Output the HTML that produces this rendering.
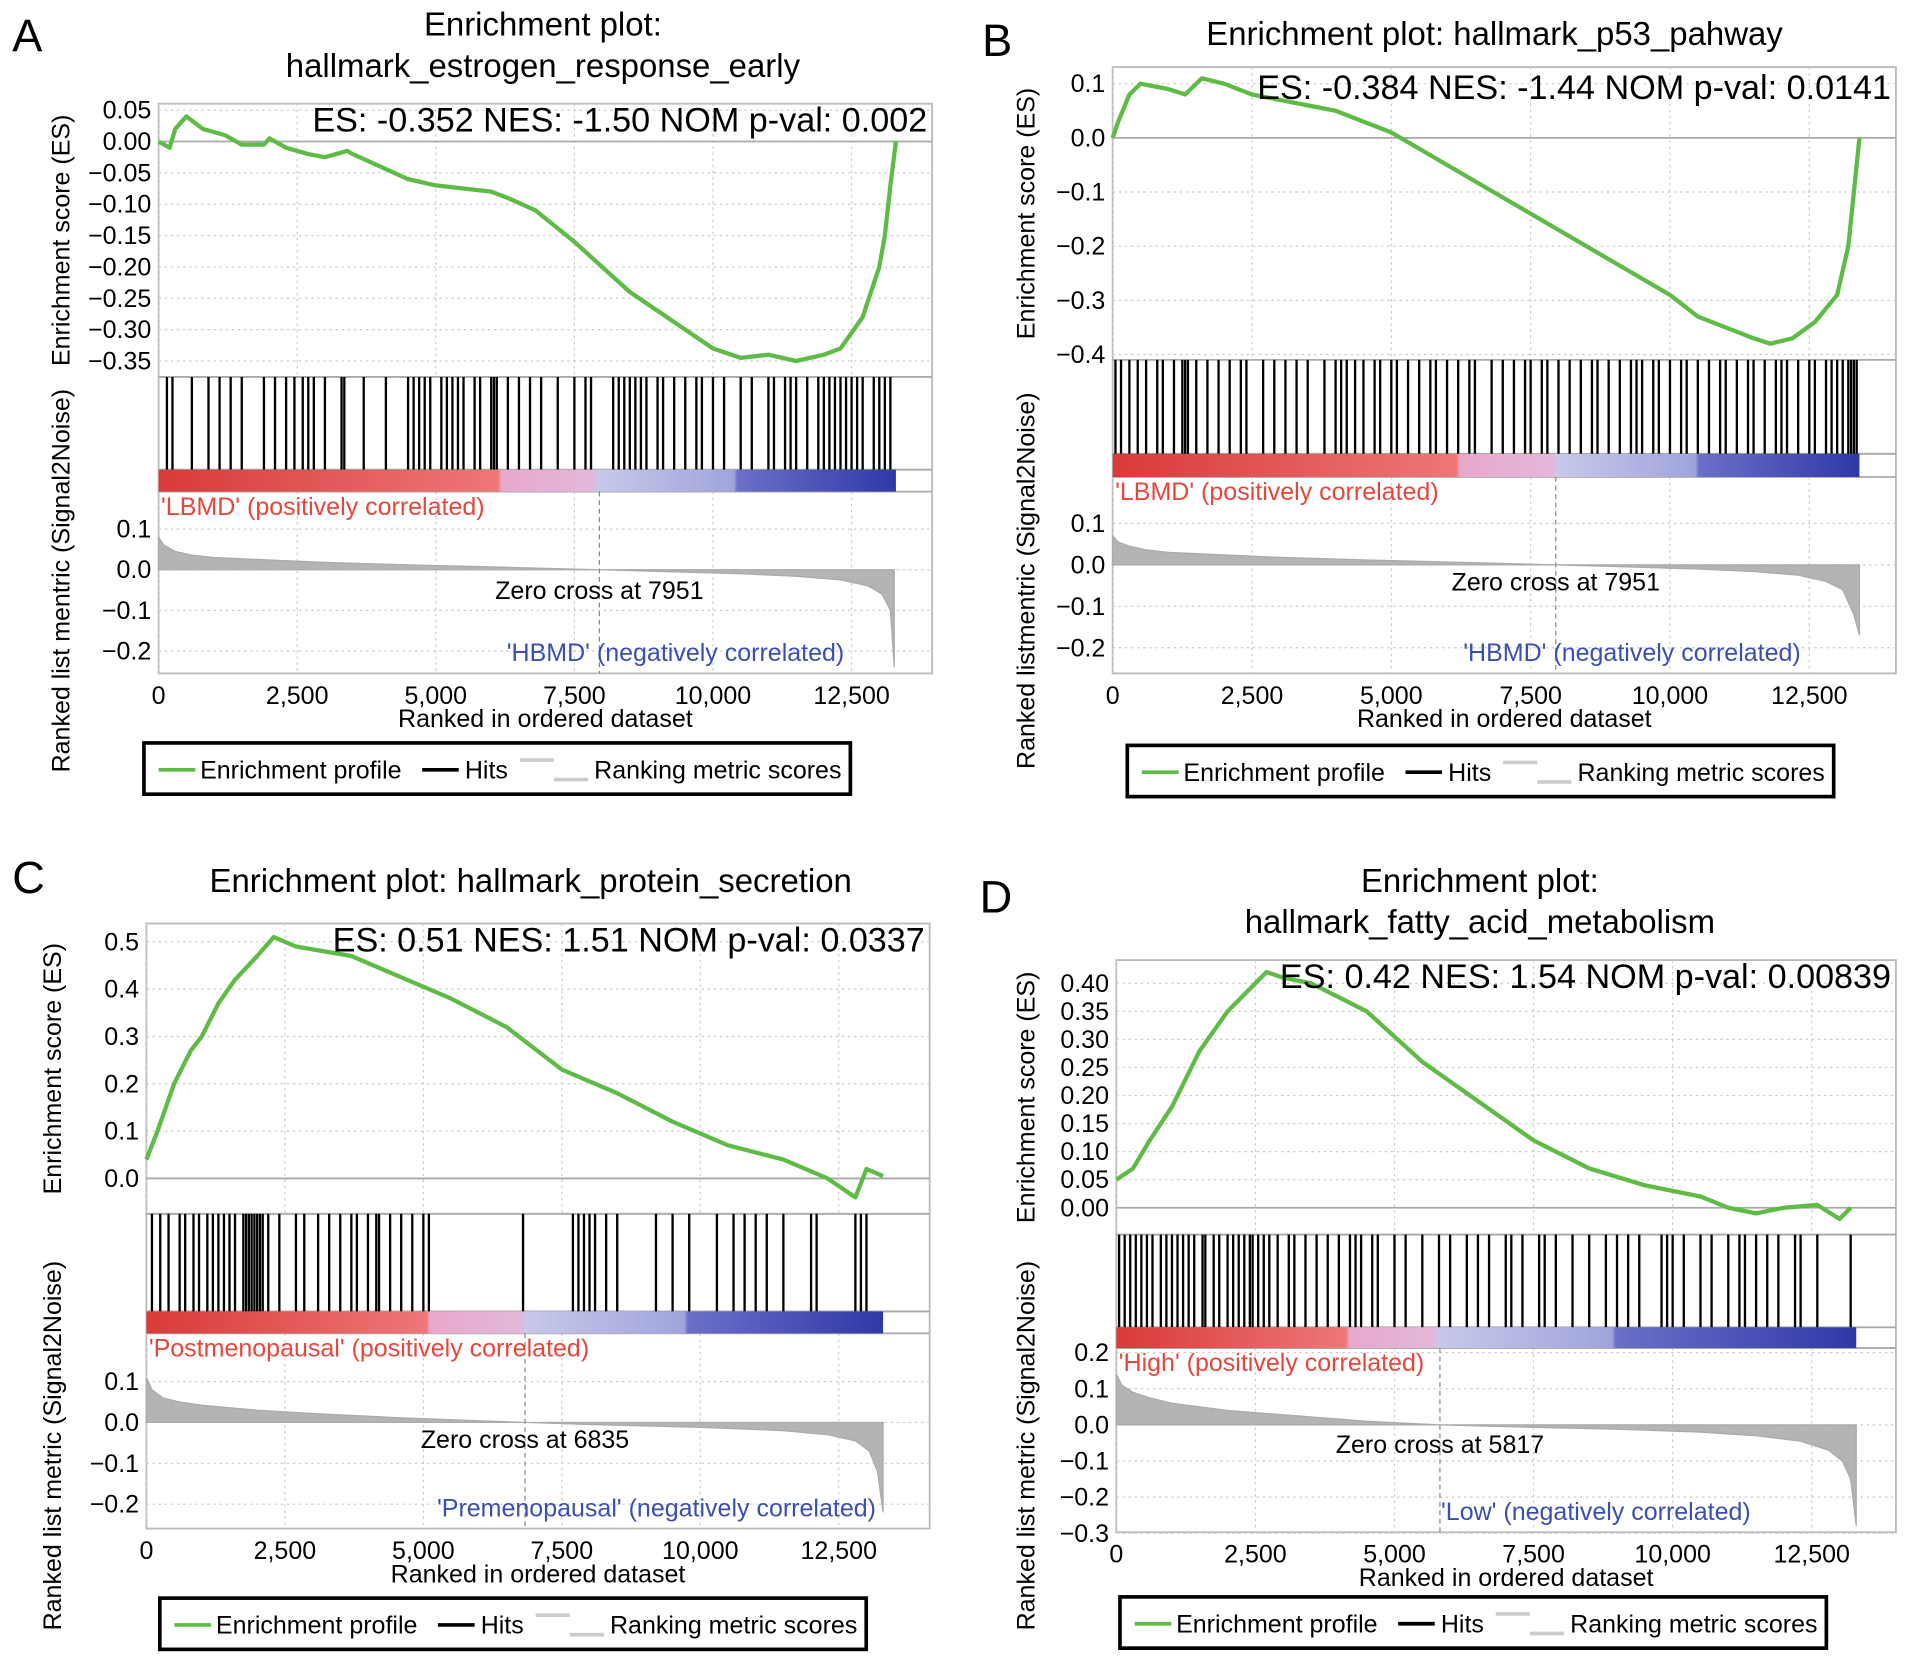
<!DOCTYPE html>
<html><head><meta charset="utf-8"><style>
html,body{margin:0;padding:0;background:#fff;}
svg{display:block;font-family:"Liberation Sans",Arial,sans-serif;}
</style></head><body>
<svg id="fig" width="1913" height="1664" viewBox="0 0 1568 1364" preserveAspectRatio="none" xmlns="http://www.w3.org/2000/svg">
<defs>
<linearGradient id="cbA" x1="0" x2="1"><stop offset="0" stop-color="#d93a3a"/><stop offset="0.46" stop-color="#ee7777"/><stop offset="0.465" stop-color="#e8a8cc"/><stop offset="0.59" stop-color="#e3b8dc"/><stop offset="0.595" stop-color="#c8c8ea"/><stop offset="0.78" stop-color="#a0a4dc"/><stop offset="0.785" stop-color="#6a70c8"/><stop offset="1" stop-color="#3038a8"/></linearGradient>
<linearGradient id="cbB" x1="0" x2="1"><stop offset="0" stop-color="#d93a3a"/><stop offset="0.46" stop-color="#ee7777"/><stop offset="0.465" stop-color="#e8a8cc"/><stop offset="0.59" stop-color="#e3b8dc"/><stop offset="0.595" stop-color="#c8c8ea"/><stop offset="0.78" stop-color="#a0a4dc"/><stop offset="0.785" stop-color="#6a70c8"/><stop offset="1" stop-color="#3038a8"/></linearGradient>
<linearGradient id="cbC" x1="0" x2="1"><stop offset="0" stop-color="#d93a3a"/><stop offset="0.38" stop-color="#ee7777"/><stop offset="0.385" stop-color="#e8a8cc"/><stop offset="0.51" stop-color="#e3b8dc"/><stop offset="0.515" stop-color="#c8c8ea"/><stop offset="0.73" stop-color="#a0a4dc"/><stop offset="0.735" stop-color="#6a70c8"/><stop offset="1" stop-color="#3038a8"/></linearGradient>
<linearGradient id="cbD" x1="0" x2="1"><stop offset="0" stop-color="#d93a3a"/><stop offset="0.31" stop-color="#ee7777"/><stop offset="0.315" stop-color="#e8a8cc"/><stop offset="0.43" stop-color="#e3b8dc"/><stop offset="0.435" stop-color="#c8c8ea"/><stop offset="0.67" stop-color="#a0a4dc"/><stop offset="0.675" stop-color="#6a70c8"/><stop offset="1" stop-color="#3038a8"/></linearGradient>
</defs>
</svg>
<script>
// ---------- data ----------
const xTickVals=[0,2500,5000,7500,10000,12500];
const xTickLabels=["0","2,500","5,000","7,500","10,000","12,500"];

const esRankA=[0,200,300,500,800,1200,1500,1900,2000,2300,2700,3000,3400,3500,4000,4500,5000,5500,6000,6300,6800,7500,8000,8500,9000,9500,10000,10500,11000,11500,12000,12300,12700,13000,13100,13200,13300];
const esValA=[0,-0.01,0.02,0.04,0.02,0.01,-0.005,-0.005,0.005,-0.01,-0.02,-0.025,-0.015,-0.02,-0.04,-0.06,-0.07,-0.075,-0.08,-0.09,-0.11,-0.16,-0.2,-0.24,-0.27,-0.3,-0.33,-0.345,-0.34,-0.35,-0.34,-0.33,-0.28,-0.2,-0.15,-0.07,0.0];
const hitsA=[150,250,600,900,1100,1300,1500,1900,2100,2300,2450,2600,2700,2800,3000,3300,3350,3700,4100,4500,4600,4700,4800,4900,5100,5200,5300,5400,5500,5700,5800,6000,6050,6100,6300,6500,6700,6900,7200,7500,7700,7800,8200,8300,8400,8500,8600,8700,8800,9000,9100,9300,9500,9700,9800,10000,10200,10500,10700,11000,11100,11300,11400,11500,11700,11900,12000,12100,12200,12300,12400,12500,12600,12700,12900,13000,13100,13200];
const mRankA=[0,100,300,600,1000,2000,3000,4500,6000,7951,9000,10500,11500,12300,12800,13050,13200,13270];
const mValA=[0.08,0.06,0.045,0.036,0.03,0.024,0.018,0.012,0.007,0,-0.004,-0.01,-0.016,-0.025,-0.04,-0.06,-0.1,-0.24];

const esRankB=[0,100,300,500,1000,1300,1600,2000,2500,3000,3500,4000,4500,5000,5500,6000,7000,8000,9000,10000,10500,11000,11500,11800,12200,12600,13000,13200,13300,13400];
const esValB=[0,0.03,0.08,0.1,0.09,0.08,0.11,0.1,0.08,0.07,0.06,0.05,0.03,0.01,-0.02,-0.05,-0.11,-0.17,-0.23,-0.29,-0.33,-0.35,-0.37,-0.38,-0.37,-0.34,-0.29,-0.2,-0.1,0.0];
const hitsB=[50,150,300,450,600,800,900,1100,1250,1300,1350,1500,1700,1900,2100,2300,2400,2700,2900,3100,3300,3500,3800,4000,4100,4200,4350,4500,4700,4800,5000,5100,5300,5500,5700,5800,6000,6200,6400,6500,6800,7000,7200,7400,7500,7700,7800,8000,8200,8400,8600,8700,8900,9100,9300,9400,9500,9700,9800,10000,10200,10300,10500,10700,10900,11000,11200,11400,11500,11700,11900,12000,12100,12300,12500,12600,12800,12900,13000,13100,13200,13250,13300,13350];
const mRankB=[0,100,300,600,1000,2000,3000,4500,6000,7951,9000,10500,11500,12300,12800,13100,13300,13400];
const mValB=[0.07,0.055,0.045,0.036,0.03,0.024,0.018,0.012,0.007,0,-0.004,-0.01,-0.016,-0.025,-0.04,-0.06,-0.12,-0.17];

const esRankC=[0,200,500,800,1000,1300,1600,2000,2300,2700,3200,3700,3900,4500,5500,6500,7500,8500,9500,10500,11500,12300,12800,13000,13300];
const esValC=[0.04,0.1,0.2,0.27,0.3,0.37,0.42,0.47,0.51,0.49,0.48,0.47,0.46,0.43,0.38,0.32,0.23,0.18,0.12,0.07,0.04,0.0,-0.04,0.02,0.005];
const hitsC=[100,250,400,600,700,850,950,1100,1200,1300,1400,1500,1600,1750,1800,1850,1900,1950,2000,2050,2100,2200,2400,2700,2850,3100,3300,3500,3700,3800,4000,4150,4200,4400,4600,4800,5000,5100,6800,7700,7800,7900,8000,8100,8300,8500,9200,9500,9800,10300,10600,10800,11000,11200,11500,12000,12100,12800,12900,13000];
const mRankC=[0,100,300,600,1000,2000,3000,4500,6835,8000,10000,11500,12300,12800,13050,13200,13300];
const mValC=[0.11,0.08,0.06,0.05,0.042,0.03,0.022,0.012,0,-0.005,-0.012,-0.02,-0.03,-0.045,-0.07,-0.12,-0.22];

const esRankD=[0,300,600,1000,1500,2000,2500,2700,3000,3500,4500,5500,6500,7500,8500,9500,10500,11000,11500,12000,12600,13000,13200];
const esValD=[0.05,0.07,0.12,0.18,0.28,0.35,0.4,0.42,0.41,0.4,0.35,0.26,0.19,0.12,0.07,0.04,0.02,0.0,-0.01,0.0,0.005,-0.02,0.0];
const hitsD=[50,150,250,350,450,550,650,800,900,1000,1100,1200,1300,1400,1550,1600,1750,1850,2000,2100,2200,2300,2400,2450,2550,2650,2750,2900,3100,3200,3400,3600,3800,4000,4200,4300,4400,4600,4700,5000,5200,5500,5800,6000,6300,6500,6700,7000,7100,7300,7600,7700,7900,8200,8500,8800,9000,9200,9400,9800,9900,10000,10200,10500,10700,11000,11200,11300,11500,11700,11900,12200,12300,12600,13200];
const mRankD=[0,100,300,600,1000,2000,3000,4500,5817,7000,9000,10500,11500,12300,12800,13050,13200,13300];
const mValD=[0.14,0.11,0.09,0.075,0.06,0.04,0.028,0.01,0,-0.005,-0.012,-0.02,-0.03,-0.045,-0.07,-0.1,-0.15,-0.28];

// ---------- drawing ----------
const NS="http://www.w3.org/2000/svg";
const svg=document.getElementById('fig');
const FS=20.5;
function mk(parent,tag,attrs,text){const e=document.createElementNS(NS,tag);for(const k in attrs)e.setAttribute(k,attrs[k]);if(text!==undefined)e.textContent=text;parent.appendChild(e);return e;}

function panel(c){
  const g=mk(svg,'g',{});
  
  
  const X=r=>c.x0+r*c.xs;
  const YE=v=>c.ez-v*c.es;
  const YM=v=>c.mz-v*c.ms;
  const L=mk(g,'text',{x:c.lx,y:c.ly,'font-size':37},c.id);
  
  c.title.forEach((t,i)=>{const e=mk(g,'text',{x:c.tx,y:c.ty+i*34,'font-size':27,'text-anchor':'middle'},t);
    });
  const fr=mk(g,'rect',{x:c.x0,y:c.top,width:c.x1-c.x0,height:c.bot-c.top,fill:'none',stroke:'#bbb','stroke-width':1.5});
  
  xTickVals.forEach((v,i)=>{
    mk(g,'line',{x1:X(v),x2:X(v),y1:c.top,y2:c.hitTop,stroke:'#ccc','stroke-dasharray':'2,3'});
    mk(g,'line',{x1:X(v),x2:X(v),y1:c.cbBot,y2:c.bot,stroke:'#ccc','stroke-dasharray':'2,3'});
    const t=mk(g,'text',{x:X(v),y:c.bot+25,'font-size':FS,'text-anchor':'middle'},xTickLabels[i]);
    
  });
  c.esTicks.forEach((v,i)=>{
    mk(g,'line',{x1:c.x0,x2:c.x1,y1:YE(v),y2:YE(v),stroke:'#ccc','stroke-dasharray':'2,3'});
    const t=mk(g,'text',{x:c.x0-6,y:YE(v)+7,'font-size':FS,'text-anchor':'end'},c.esLab[i]);
    
  });
  c.mTicks.forEach((v,i)=>{
    mk(g,'line',{x1:c.x0,x2:c.x1,y1:YM(v),y2:YM(v),stroke:'#ccc','stroke-dasharray':'2,3'});
    const t=mk(g,'text',{x:c.x0-6,y:YM(v)+7,'font-size':FS,'text-anchor':'end'},c.mLab[i]);
    
  });
  mk(g,'line',{x1:c.x0,x2:c.x1,y1:YE(0),y2:YE(0),stroke:'#aaa','stroke-width':1.5});
  mk(g,'line',{x1:c.x0,x2:c.x1,y1:c.hitTop,y2:c.hitTop,stroke:'#aaa','stroke-width':1.5});
  mk(g,'line',{x1:c.x0,x2:c.x1,y1:c.cbTop,y2:c.cbTop,stroke:'#aaa','stroke-width':1.5});
  mk(g,'line',{x1:c.x0,x2:c.x1,y1:c.cbBot,y2:c.cbBot,stroke:'#aaa','stroke-width':1.5});
  c.hits.forEach(h=>{const l=mk(g,'line',{x1:X(h),x2:X(h),y1:c.hitTop,y2:c.cbTop,stroke:'#000','stroke-width':1.9});
    });
  const cb=mk(g,'rect',{x:c.x0,y:c.cbTop,width:X(c.N)-c.x0,height:c.cbBot-c.cbTop,fill:'url(#'+c.grad+')'});
  
  let d='M'+X(c.mR[0])+','+YM(0);
  c.mR.forEach((r,i)=>{d+=' L'+X(r)+','+YM(c.mV[i]);});
  d+=' L'+X(c.mR[c.mR.length-1])+','+YM(0)+' Z';
  const ma=mk(g,'path',{d:d,fill:'#b4b4b4',stroke:'#aaa','stroke-width':1});
  
  mk(g,'line',{x1:X(c.zc),x2:X(c.zc),y1:c.cbBot,y2:c.bot,stroke:'#888','stroke-dasharray':'4,3'});
  const zt=mk(g,'text',{x:X(c.zc),y:c.zty,'font-size':FS,'text-anchor':'middle'},'Zero cross at '+c.zc);
  
  const pos=mk(g,'text',{x:c.x0+2,y:c.cbBot+19,'font-size':FS,fill:'#e8463c'},c.posLab);
  
  const neg=mk(g,'text',{x:c.negX,y:c.bot-10,'font-size':FS,fill:'#3b4fb0','text-anchor':'end'},c.negLab);
  
  const pts=c.esR.map((r,i)=>X(r)+','+YE(c.esV[i])).join(' ');
  const cur=mk(g,'polyline',{points:pts,fill:'none',stroke:'#5dbb46','stroke-width':3.5,'stroke-linejoin':'round'});
  
  const st=mk(g,'text',{x:c.x1-4,y:c.sty,'font-size':28,'text-anchor':'end'},c.stat);
  
  const xl=mk(g,'text',{x:(c.x0+c.x1)/2,y:c.bot+44,'font-size':FS,'text-anchor':'middle'},'Ranked in ordered dataset');
  
  const y1=mk(g,'text',{x:0,y:0,'font-size':FS,'text-anchor':'middle',transform:'translate('+c.ylx+','+((c.top+c.hitTop)/2)+') rotate(-90)'},'Enrichment score (ES)');
  
  const y2=mk(g,'text',{x:0,y:0,'font-size':FS,'text-anchor':'middle',transform:'translate('+c.ylx+','+c.y2c+') rotate(-90)'},c.y2t);
  
  const lg=mk(g,'g',{});
  
  const lx=c.lgx,ly=c.lgy;
  mk(lg,'rect',{x:lx,y:ly,width:579,height:42,fill:'#fff',stroke:'#000','stroke-width':3});
  mk(lg,'line',{x1:lx+12,x2:lx+42,y1:ly+22,y2:ly+22,stroke:'#5dbb46','stroke-width':3});
  const t1=mk(lg,'text',{x:lx+46,y:ly+29,'font-size':FS},'Enrichment profile');
  
  mk(lg,'line',{x1:lx+228,x2:lx+258,y1:ly+22,y2:ly+22,stroke:'#000','stroke-width':3});
  const t2=mk(lg,'text',{x:lx+263,y:ly+29,'font-size':FS},'Hits');
  
  mk(lg,'line',{x1:lx+308,x2:lx+336,y1:ly+14,y2:ly+14,stroke:'#ccc','stroke-width':3});
  mk(lg,'line',{x1:lx+336,x2:lx+364,y1:ly+30,y2:ly+30,stroke:'#ccc','stroke-width':3});
  const t3=mk(lg,'text',{x:lx+369,y:ly+29,'font-size':FS},'Ranking metric scores');
  
}

panel({id:'A',lx:10,ly:42,title:['Enrichment plot:','hallmark_estrogen_response_early'],tx:445,ty:29,
  x0:130,x1:764,xs:0.04544,top:85,hitTop:309,cbTop:385,cbBot:403,bot:552,ez:116,es:514,mz:467,ms:333,N:13300,
  esTicks:[0.05,0,-0.05,-0.1,-0.15,-0.2,-0.25,-0.3,-0.35],esLab:['0.05','0.00','−0.05','−0.10','−0.15','−0.20','−0.25','−0.30','−0.35'],
  mTicks:[0.1,0,-0.1,-0.2],mLab:['0.1','0.0','−0.1','−0.2'],hits:hitsA,grad:'cbA',mR:mRankA,mV:mValA,esR:esRankA,esV:esValA,
  zc:7951,zty:491,posLab:"'LBMD' (positively correlated)",negLab:"'HBMD' (negatively correlated)",negX:692,
  stat:'ES: -0.352 NES: -1.50 NOM p-val: 0.002',sty:108,ylx:57,y2c:476,y2t:'Ranked list mentric (Signal2Noise)',lgx:118,lgy:609});
panel({id:'B',lx:805,ly:46,title:['Enrichment plot: hallmark_p53_pahway'],tx:1225,ty:37,
  x0:912,x1:1554,xs:0.04568,top:55,hitTop:295,cbTop:372,cbBot:391,bot:552,ez:113,es:444,mz:463,ms:340,N:13400,
  esTicks:[0.1,0,-0.1,-0.2,-0.3,-0.4],esLab:['0.1','0.0','−0.1','−0.2','−0.3','−0.4'],
  mTicks:[0.1,0,-0.1,-0.2],mLab:['0.1','0.0','−0.1','−0.2'],hits:hitsB,grad:'cbB',mR:mRankB,mV:mValB,esR:esRankB,esV:esValB,
  zc:7951,zty:484,posLab:"'LBMD' (positively correlated)",negLab:"'HBMD' (negatively correlated)",negX:1476,
  stat:'ES: -0.384 NES: -1.44 NOM p-val: 0.0141',sty:81,ylx:848,y2c:476,y2t:'Ranked listmentric (Signal2Noise)',lgx:924,lgy:611});
panel({id:'C',lx:10,ly:732,title:['Enrichment plot: hallmark_protein_secretion'],tx:435,ty:731,
  x0:120,x1:762,xs:0.0454,top:757,hitTop:995,cbTop:1075,cbBot:1093,bot:1253,ez:966,es:388,mz:1166,ms:335,N:13300,
  esTicks:[0.5,0.4,0.3,0.2,0.1,0],esLab:['0.5','0.4','0.3','0.2','0.1','0.0'],
  mTicks:[0.1,0,-0.1,-0.2],mLab:['0.1','0.0','−0.1','−0.2'],hits:hitsC,grad:'cbC',mR:mRankC,mV:mValC,esR:esRankC,esV:esValC,
  zc:6835,zty:1187,posLab:"'Postmenopausal' (positively correlated)",negLab:"'Premenopausal' (negatively correlated)",negX:718,
  stat:'ES: 0.51 NES: 1.51 NOM p-val: 0.0337',sty:780,ylx:50,y2c:1185,y2t:'Ranked list metric (Signal2Noise)',lgx:131,lgy:1310});
panel({id:'D',lx:803,ly:748,title:['Enrichment plot:','hallmark_fatty_acid_metabolism'],tx:1213,ty:731,
  x0:915,x1:1554,xs:0.0456,top:787,hitTop:1012,cbTop:1088,cbBot:1105,bot:1256,ez:990,es:460,mz:1168,ms:296,N:13300,
  esTicks:[0.4,0.35,0.3,0.25,0.2,0.15,0.1,0.05,0],esLab:['0.40','0.35','0.30','0.25','0.20','0.15','0.10','0.05','0.00'],
  mTicks:[0.2,0.1,0,-0.1,-0.2,-0.3],mLab:['0.2','0.1','0.0','−0.1','−0.2','−0.3'],hits:hitsD,grad:'cbD',mR:mRankD,mV:mValD,esR:esRankD,esV:esValD,
  zc:5817,zty:1191,posLab:"'High' (positively correlated)",negLab:"'Low' (negatively correlated)",negX:1435,
  stat:'ES: 0.42 NES: 1.54 NOM p-val: 0.00839',sty:810,ylx:848,y2c:1185,y2t:'Ranked list metric (Signal2Noise)',lgx:918,lgy:1309});
</script>
</body></html>
